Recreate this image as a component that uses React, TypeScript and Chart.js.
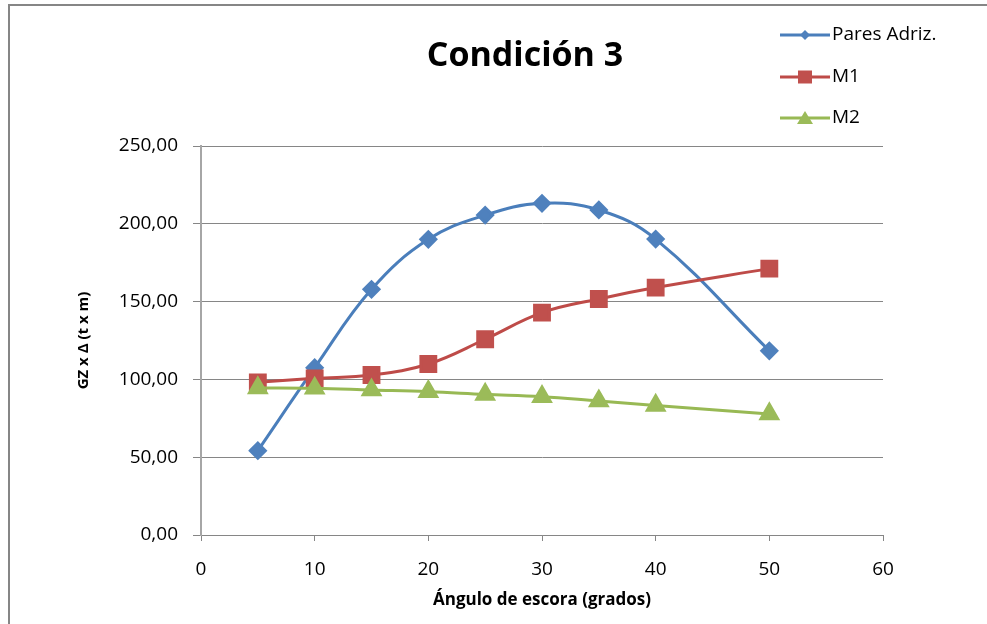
import React, { useEffect, useRef } from 'react';
import { Chart, registerables } from 'chart.js';

Chart.register(...registerables);

// ---- data ----
const angles = [5, 10, 15, 20, 25, 30, 35, 40, 50];
const paresAdriz = [54.2, 107.5, 157.9, 190.0, 205.6, 213.2, 208.9, 190.2, 118.4];
const m1 = [98.1, 100.7, 102.8, 109.9, 125.8, 142.9, 151.7, 159.0, 171.2];
const m2 = [94.5, 94.3, 93.2, 92.1, 90.4, 88.9, 86.1, 83.3, 77.8];
const seriesNames = ['Pares Adriz.', 'M1', 'M2'];
const chartTitle = 'Condición 3';
const xAxisTitle = 'Ángulo de escora (grados)';
const yAxisTitle = 'GZ x Δ (t x m)';

const FONT = "'Open Sans', 'Noto Sans', sans-serif";

const colors = [
  { line: '#4A7EBB', fill: '#4F81BD' },
  { line: '#BE4B48', fill: '#C0504D' },
  { line: '#98B954', fill: '#9BBB59' },
];

const toPoints = (ys: number[]) => angles.map((x, i) => ({ x, y: ys[i] }));

function drawMarker(ctx: CanvasRenderingContext2D, kind: number, x: number, y: number) {
  ctx.beginPath();
  if (kind === 0) {
    const r = 5;
    ctx.moveTo(x, y - r);
    ctx.lineTo(x + r, y);
    ctx.lineTo(x, y + r);
    ctx.lineTo(x - r, y);
    ctx.closePath();
  } else if (kind === 1) {
    ctx.rect(x - 7, y - 6.5, 14, 13);
  } else {
    ctx.moveTo(x, y - 7);
    ctx.lineTo(x + 8, y + 6);
    ctx.lineTo(x - 8, y + 6);
    ctx.closePath();
  }
  ctx.fill();
}

const decorPlugin = {
  id: 'decor',
  beforeDraw(chart: any) {
    const ctx = chart.ctx as CanvasRenderingContext2D;
    ctx.save();
    ctx.fillStyle = '#ffffff';
    ctx.fillRect(0, 0, chart.width, chart.height);
    ctx.strokeStyle = '#868686';
    ctx.lineWidth = 2;
    ctx.beginPath();
    ctx.moveTo(9, chart.height);
    ctx.lineTo(9, 5);
    ctx.lineTo(chart.width, 5);
    ctx.stroke();
    ctx.restore();
  },
  afterDraw(chart: any) {
    const ctx = chart.ctx as CanvasRenderingContext2D;
    ctx.save();
    // title
    ctx.fillStyle = '#000';
    ctx.font = `bold 34px ${FONT}`;
    ctx.textAlign = 'center';
    ctx.textBaseline = 'middle';
    ctx.fillText(chartTitle, 525, 56);
    // legend
    const ys = [35, 77, 118];
    ctx.font = `19px ${FONT}`;
    ctx.textAlign = 'left';
    seriesNames.forEach((name, i) => {
      const y = ys[i];
      ctx.strokeStyle = colors[i].line;
      ctx.lineWidth = 3;
      ctx.beginPath();
      ctx.moveTo(780, y);
      ctx.lineTo(830, y);
      ctx.stroke();
      ctx.fillStyle = colors[i].fill;
      drawMarker(ctx, i, 805, y);
      ctx.fillStyle = '#000';
      ctx.fillText(name, 832, y);
    });
    ctx.restore();
  },
};

export default function App() {
  const canvasRef = useRef<HTMLCanvasElement | null>(null);

  useEffect(() => {
    if (!canvasRef.current) return;
    const chart = new Chart(canvasRef.current, {
      type: 'line',
      data: {
        datasets: [
          {
            label: seriesNames[0],
            data: toPoints(paresAdriz),
            borderColor: colors[0].line,
            backgroundColor: colors[0].fill,
            pointBackgroundColor: colors[0].fill,
            pointBorderColor: colors[0].fill,
            borderWidth: 3,
            pointStyle: 'rectRot',
            pointRadius: 7.5,
            tension: 0.4,
            order: 3,
          },
          {
            label: seriesNames[1],
            data: toPoints(m1),
            borderColor: colors[1].line,
            backgroundColor: colors[1].fill,
            pointBackgroundColor: colors[1].fill,
            pointBorderColor: colors[1].fill,
            borderWidth: 3,
            pointStyle: 'rect',
            pointRadius: 10.5,
            tension: 0.4,
            order: 2,
          },
          {
            label: seriesNames[2],
            data: toPoints(m2),
            borderColor: colors[2].line,
            backgroundColor: colors[2].fill,
            pointBackgroundColor: colors[2].fill,
            pointBorderColor: colors[2].fill,
            borderWidth: 3,
            pointStyle: 'triangle',
            pointRadius: 9.6,
            tension: 0.4,
            order: 1,
          },
        ],
      },
      options: {
        responsive: false,
        animation: false,
        devicePixelRatio: 1,
        layout: { padding: { left: 0, top: 146, right: 104, bottom: 0 } },
        plugins: {
          legend: { display: false },
          title: { display: false },
          tooltip: { enabled: false },
        },
        scales: {
          x: {
            type: 'linear',
            min: 0,
            max: 60,
            afterFit: (s: any) => { s.height = 89; },
            ticks: {
              stepSize: 10,
              color: '#000',
              font: { family: FONT, size: 19 },
              padding: 17,
              maxRotation: 0,
            },
            grid: { drawOnChartArea: false, tickLength: 6, tickColor: '#868686' },
            border: { color: '#868686', width: 1 },
            title: {
              display: true,
              text: xAxisTitle,
              color: '#000',
              font: { family: FONT, size: 17, weight: 'bold' },
              padding: { top: 0, bottom: 14 },
            },
          },
          y: {
            min: 0,
            max: 250,
            afterFit: (s: any) => { s.width = 201; },
            ticks: {
              stepSize: 50,
              color: '#000',
              font: { family: FONT, size: 19 },
              padding: 15,
              callback: (v: any) => Number(v).toFixed(2).replace('.', ','),
            },
            grid: { color: '#868686', lineWidth: 1, tickLength: 8 },
            border: { color: '#a6a6a6', width: 2 },
            title: {
              display: true,
              text: yAxisTitle,
              color: '#000',
              font: { family: FONT, size: 15, weight: 'bold' },
              padding: { top: 75, bottom: 0 },
            },
          },
        },
      },
      plugins: [decorPlugin],
    });
    return () => chart.destroy();
  }, []);

  return (
    <div style={{ position: 'absolute', left: 0, top: 0, width: 987, height: 624, background: '#fff' }}>
      <canvas ref={canvasRef} width={987} height={624} style={{ display: 'block', width: 987, height: 624 }} />
    </div>
  );
}
